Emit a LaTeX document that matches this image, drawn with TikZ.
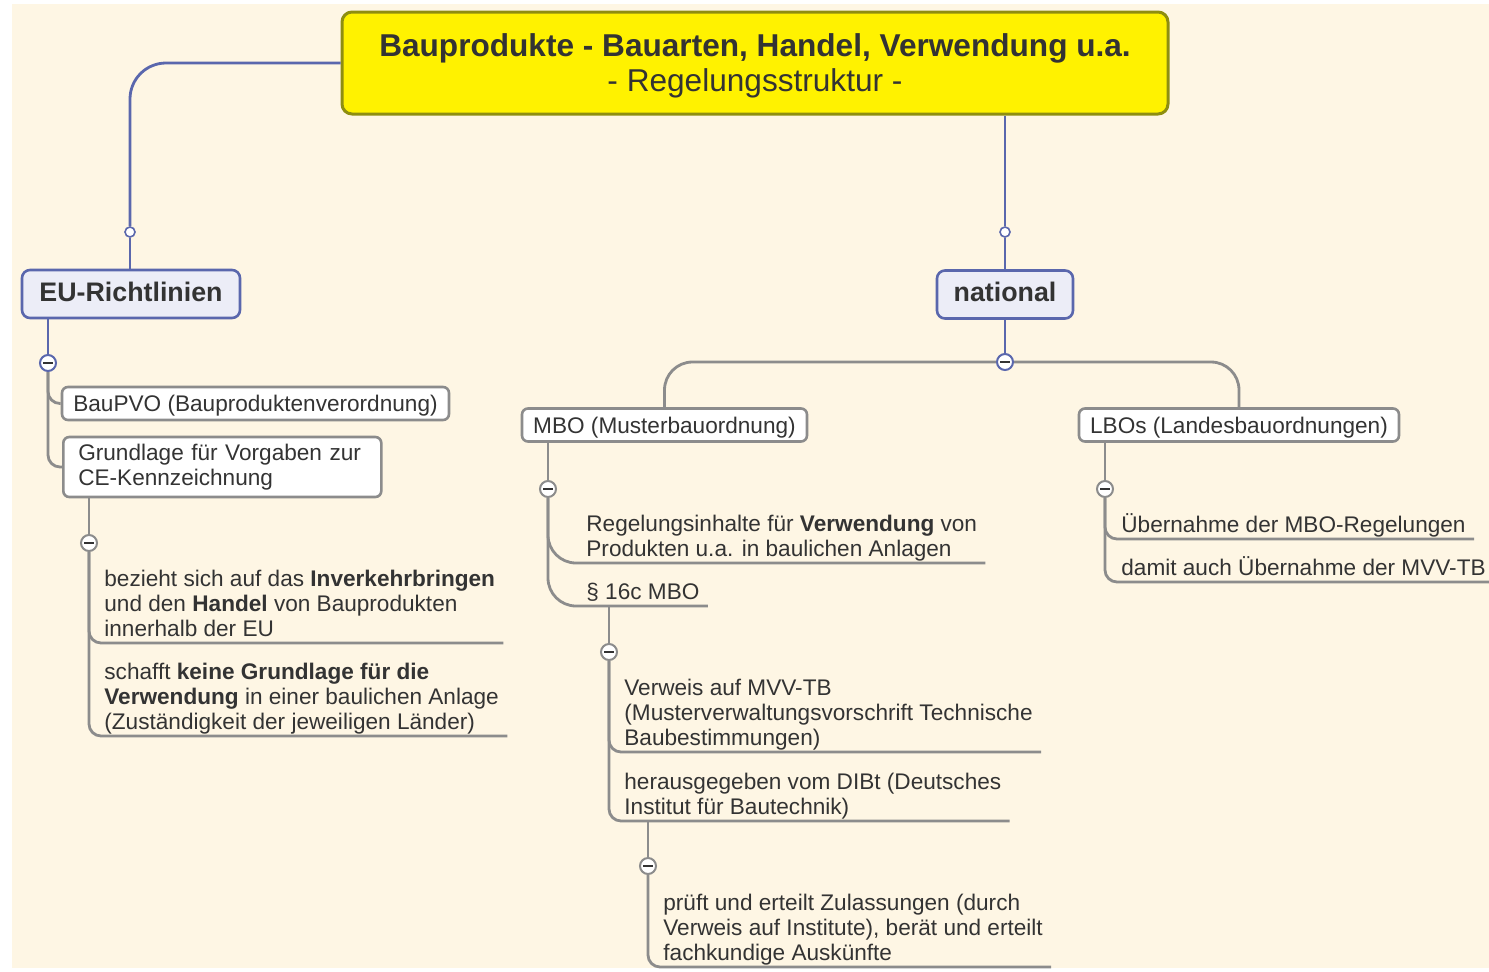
\documentclass[tikz,border=0pt]{standalone}
\usepackage{fontspec}
\setmainfont{Liberation Sans}
\usetikzlibrary{calc}
\definecolor{bgcream}{HTML}{FEF6E4}
\definecolor{linkblue}{HTML}{5A67AD}
\definecolor{linkgray}{HTML}{8C8C8C}
\definecolor{boxblue}{HTML}{ECEDF7}
\definecolor{titleedge}{HTML}{8E8E10}
\definecolor{inkgray}{HTML}{333333}
\newcommand{\lowstrut}{\rule[-2.7pt]{0pt}{2.7pt}}

\begin{document}
\begin{tikzpicture}[x=0.5pt,y=-0.5pt]
		\tikzstyle{title_block} = [draw=titleedge, line width=1.5pt, fill=yellow, rounded corners=5pt, minimum width=413pt, minimum height=51pt, align=center, text depth=0pt, text=inkgray, font=\fontsize{15.8}{17.5}\selectfont];
		\tikzstyle{main_block} = [draw=linkblue, line width=1.3pt, fill=boxblue, rounded corners=4pt, minimum height=24pt, text height=9.8pt, text depth=2.5pt, text=inkgray, font=\fontsize{13.4}{15}\selectfont\bfseries];
		\tikzstyle{sub_block} = [draw=linkgray, line width=1.3pt, fill=white, rounded corners=3pt, minimum height=16.5pt, inner xsep=5pt, inner ysep=2pt, text height=10.4pt, text depth=2pt, text=inkgray, font=\fontsize{11.3}{12.5}\selectfont];
		\tikzstyle{leaf} = [anchor=south west, inner xsep=4pt, inner ysep=0.3pt, align=left, text=inkgray, font=\fontsize{11.3}{12.5}\selectfont];
		\tikzstyle{minus_btn} = [circle, draw=linkgray, line width=1pt, fill=white, minimum size=8pt, inner sep=0pt, path picture={\draw[line width=1pt, inkgray] ([xshift=-2.3pt]path picture bounding box.center) -- ([xshift=2.3pt]path picture bounding box.center);}];
		\tikzstyle{open_dot} = [circle, draw=linkblue, line width=0.8pt, fill=white, minimum size=5pt, inner sep=0pt];
		\tikzstyle{blue_link} = [draw=linkblue, line width=1.4pt, rounded corners=18pt];
		\tikzstyle{gray_link} = [draw=linkgray, line width=1.4pt, rounded corners=6pt];

		\useasboundingbox (0,0) rectangle (1489,971);
		\fill[white] (0,0) rectangle (1489,971);
		\fill[bgcream] (12,4) rectangle (1489,968);

		\node[title_block] (title) at (755,63) {\textbf{Bauprodukte - Bauarten, Handel, Verwendung u.a.}\\- Regelungsstruktur -};

		\node[main_block, minimum width=109pt] (eu) at (131,294) {EU-Richtlinien};
		\node[main_block, minimum width=68pt] (nat) at (1005,294.5) {national};
		\node[open_dot] (euDot) at (130,232) {};
		\node[open_dot] (natDot) at (1005,232) {};
		\node[minus_btn, draw=linkblue] (euMinus) at (48,363) {};
		\node[minus_btn, draw=linkblue] (natMinus) at (1005,362) {};

		\node[sub_block, minimum width=193.5pt] (baupvo) at (255.5,403.5) {BauPVO (Bauproduktenverordnung)};
		\node[sub_block, anchor=west, text width=144pt, inner xsep=7.5pt, align=left, minimum height=30pt, text height=, text depth=] (grund) at (62,467) {Grundlage für Vorgaben zur\\CE-Kennzeichnung};
		\node[minus_btn] (grundMinus) at (89,543) {};
		\node[leaf] (verkehr) at (96,643) {bezieht sich auf das \textbf{Inverkehrbringen}\\und den \textbf{Handel} von Bauprodukten\\innerhalb der EU\lowstrut};
		\node[leaf] (keine) at (96,736) {schafft \textbf{keine Grundlage für die}\\\textbf{Verwendung} in einer baulichen Anlage\\(Zuständigkeit der jeweiligen Länder)\lowstrut};

		\node[sub_block, minimum width=142.5pt] (mbo) at (664.5,425) {MBO (Musterbauordnung)};
		\node[sub_block, minimum width=160pt] (lbo) at (1239,425) {LBOs (Landesbauordnungen)};
		\node[minus_btn] (mboMinus) at (548,489) {};
		\node[leaf] (inhalte) at (578,563) {Regelungsinhalte für \textbf{Verwendung} von\\Produkten u.a. in baulichen Anlagen\lowstrut};
		\node[leaf] (para) at (578,606) {§ 16c MBO\lowstrut};
		\node[minus_btn] (paraMinus) at (609,652) {};
		\node[leaf] (verweis) at (616,752) {Verweis auf MVV-TB\\(Musterverwaltungsvorschrift Technische\\Baubestimmungen)\lowstrut};
		\node[leaf] (dibt) at (616,821) {herausgegeben vom DIBt (Deutsches\\Institut für Bautechnik)\lowstrut};
		\node[minus_btn] (dibtMinus) at (648,866) {};
		\node[leaf] (pruef) at (655,967) {prüft und erteilt Zulassungen (durch\\Verweis auf Institute), berät und erteilt\\fachkundige Auskünfte\lowstrut};

		\node[minus_btn] (lboMinus) at (1105,489) {};
		\node[leaf] (uebern) at (1113,539) {Übernahme der MBO-Regelungen\lowstrut};
		\node[leaf] (mvvtb) at (1113,582) {damit auch Übernahme der MVV-TB\lowstrut};

		\draw[blue_link] (title.west) -| (euDot);
		\draw[blue_link] (euDot) -- (euDot |- eu.north);
		\draw[blue_link] (natDot |- title.south) -- (natDot);
		\draw[blue_link] (natDot) -- (nat);
		\draw[blue_link] (euMinus |- eu.south) -- (euMinus);
		\draw[blue_link] (nat) -- (natMinus);

		\draw[gray_link, rounded corners=14pt] (natMinus) -| (mbo);
		\draw[gray_link, rounded corners=14pt] (natMinus) -| (lbo);

		\draw[gray_link] (euMinus) |- (baupvo);
		\draw[gray_link] (euMinus) |- (grund);
		\draw[gray_link] (grundMinus |- grund.south) -- (grundMinus);
		\draw[gray_link] (grundMinus) |- (verkehr.south east);
		\draw[gray_link] (grundMinus) |- (keine.south east);

		\draw[gray_link] (mboMinus |- mbo.south) -- (mboMinus);
		\draw[gray_link, rounded corners=14pt] (mboMinus) |- (inhalte.south east);
		\draw[gray_link, rounded corners=14pt] (mboMinus) |- (para.south east);
		\draw[gray_link] (paraMinus |- para.south) -- (paraMinus);
		\draw[gray_link] (paraMinus) |- (verweis.south east);
		\draw[gray_link] (paraMinus) |- (dibt.south east);
		\draw[gray_link] (dibtMinus |- dibt.south) -- (dibtMinus);
		\draw[gray_link] (dibtMinus) |- (pruef.south east);

		\draw[gray_link] (lboMinus |- lbo.south) -- (lboMinus);
		\draw[gray_link] (lboMinus) |- (uebern.south east);
		\draw[gray_link] (lboMinus) |- (mvvtb.south east);
	\end{tikzpicture}
\end{document}
